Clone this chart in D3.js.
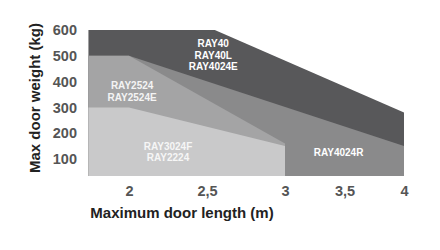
<!DOCTYPE html>
<html>
<head>
<meta charset="utf-8">
<script src="https://cdn.jsdelivr.net/npm/d3@7"></script>
<style>
  body { margin: 0; background: #fff; }
  svg { display: block; font-family: "Liberation Sans", Arial, sans-serif; }
</style>
</head>
<body>
<svg></svg>
<script>
// door length (m) vs max door weight (kg) per model range
const width = 440;
const height = 250;

const xTicks = [2, 2.5, 3, 3.5, 4];
const yTicks = [100, 200, 300, 400, 500, 600];

// each series: [length, weight] points
const ray40Lengths = [1.74, 2.55, 4];
const ray40Weights = [600, 600, 280];
const ray4024rLengths = [1.74, 2, 4];
const ray4024rWeights = [500, 500, 150];
const ray2524Lengths = [1.74, 2, 3];
const ray2524Weights = [500, 500, 160];
const ray3024fLengths = [1.74, 2, 3];
const ray3024fWeights = [300, 300, 150];

const baseWeight = 34;

const series = [
  { lengths: ray40Lengths, weights: ray40Weights, color: "#58585a", labels: ["RAY40", "RAY40L", "RAY4024E"], lx: 2.54, lw: 534, textColor: "#ffffff" },
  { lengths: ray4024rLengths, weights: ray4024rWeights, color: "#8a8a8b", labels: ["RAY4024R"], lx: 3.45, lw: 112, textColor: "#ffffff" },
  { lengths: ray2524Lengths, weights: ray2524Weights, color: "#a4a4a5", labels: ["RAY2524", "RAY2524E"], lx: 2.02, lw: 371, textColor: "#f4f4f4" },
  { lengths: ray3024fLengths, weights: ray3024fWeights, color: "#c9c9ca", labels: ["RAY3024F", "RAY2224"], lx: 2.25, lw: 135, textColor: "#f6f6f6" }
];

const svg = d3.select("svg")
  .attr("width", width)
  .attr("height", height);

// the original axis is not evenly spaced past 3 m
const x = d3.scaleLinear()
  .domain([2, 3, 4])
  .range([129, 285, 404]);

const y = d3.scaleLinear()
  .domain([100, 600])
  .range([159, 30]);

const area = d3.area()
  .x(d => x(d[0]))
  .y0(y(baseWeight))
  .y1(d => y(d[1]));

// filled areas, biggest first
series.forEach(s => {
  const pts = s.lengths.map((l, i) => [l, s.weights[i]]);
  svg.append("path")
    .attr("d", area(pts))
    .attr("fill", s.color);
});

// labels inside the areas
series.forEach(s => {
  const t = svg.append("text")
    .attr("x", x(s.lx))
    .attr("y", y(s.lw))
    .attr("text-anchor", "middle")
    .attr("font-size", "10px")
    .attr("font-weight", "bold")
    .attr("fill", s.textColor);
  s.labels.forEach((lab, i) => {
    t.append("tspan")
      .attr("x", x(s.lx))
      .attr("dy", i === 0 ? 0 : 11.5)
      .text(lab);
  });
});

// y axis tick labels
const yAxis = svg.append("g")
  .attr("transform", "translate(77, 0)")
  .call(d3.axisLeft(y).tickValues(yTicks).tickSize(0).tickPadding(0));
yAxis.select(".domain").remove();
yAxis.selectAll("text")
  .attr("font-family", "Liberation Sans, Arial, sans-serif")
  .attr("font-size", "14.5px")
  .attr("font-weight", "bold")
  .attr("fill", "#555");

// x axis tick labels
const xAxis = svg.append("g")
  .attr("transform", "translate(0, 186)")
  .call(d3.axisBottom(x).tickValues(xTicks).tickSize(0).tickPadding(0)
    .tickFormat(d => String(d).replace(".", ",")));
xAxis.select(".domain").remove();
xAxis.selectAll("text")
  .attr("font-family", "Liberation Sans, Arial, sans-serif")
  .attr("font-size", "14.5px")
  .attr("font-weight", "bold")
  .attr("fill", "#555");

// axis titles
svg.append("text")
  .attr("x", 182)
  .attr("y", 218)
  .attr("text-anchor", "middle")
  .attr("font-size", "15px")
  .attr("font-weight", "bold")
  .attr("fill", "#222")
  .text("Maximum door length (m)");

svg.append("text")
  .attr("transform", "translate(40, 98) rotate(-90)")
  .attr("text-anchor", "middle")
  .attr("font-size", "15px")
  .attr("font-weight", "bold")
  .attr("fill", "#222")
  .text("Max door weight (kg)");
</script>
</body>
</html>
